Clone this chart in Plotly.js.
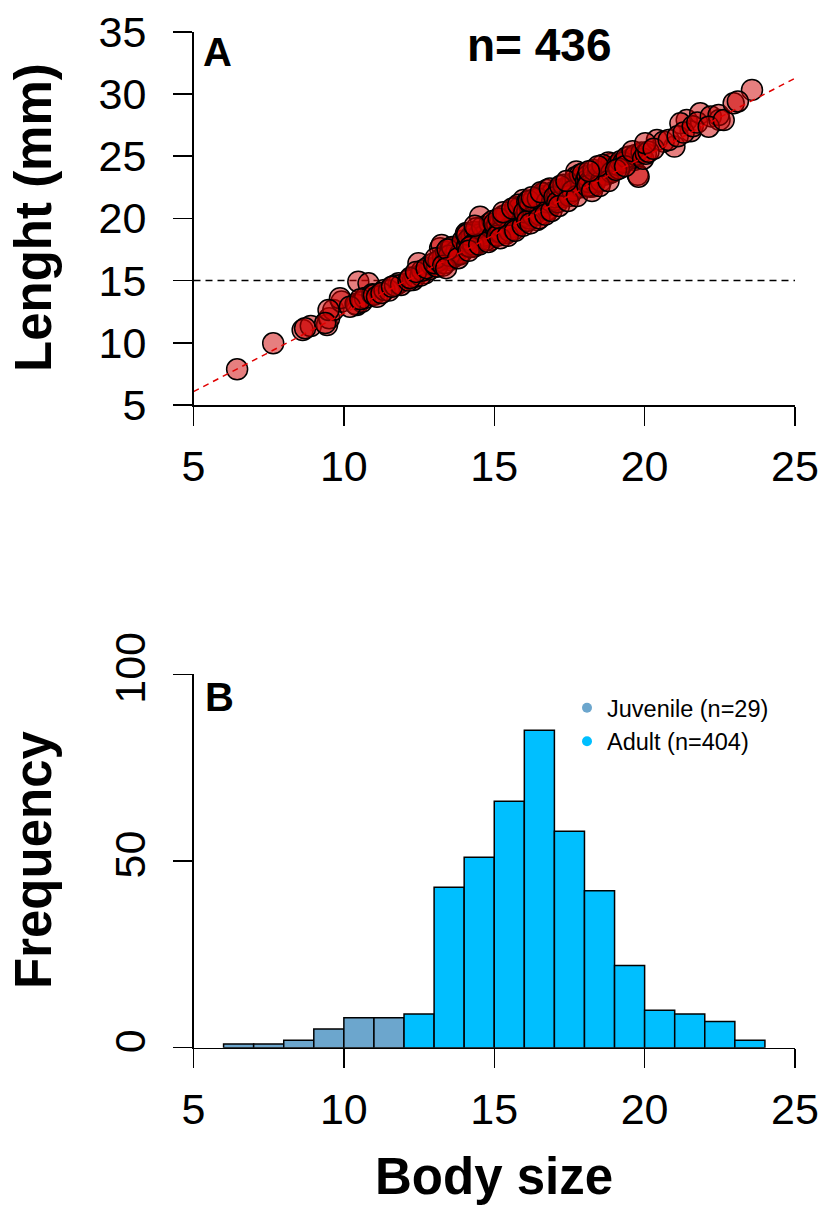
<!DOCTYPE html>
<html>
<head>
<meta charset="utf-8">
<script src="https://cdn.plot.ly/plotly-3.0.1.min.js"></script>
<style>html,body{margin:0;padding:0;background:#fff;}#chart{width:825px;height:1207px;}</style>
</head>
<body>
<div id="chart"></div>
<script>
// ---- Panel A: body size vs length ----
const bodySize = [
  6.45, 7.65, 8.63, 8.9, 8.71,
  9.44, 9.51, 9.65, 9.92, 9.87, 9.49, 9.38,
  10.48, 10.82, 10.43, 10.39, 10.6, 10.7, 10.95, 10.2, 10.55,
  11.0, 11.1, 11.35, 11.82, 11.5, 11.25, 11.7, 11.9, 11.6,
  12.3, 12.37, 12.48, 12.7, 12.15, 12.55, 12.85, 12.9, 12.6, 12.2, 12.4, 12.75,
  13.09, 13.43, 13.2, 13.87, 13.25, 13.52, 13.1, 13.0, 13.3, 13.6, 13.7, 13.8, 13.95, 13.15, 13.4, 13.55, 13.65, 13.75, 13.9, 13.35, 13.05, 13.5, 13.3, 13.6, 13.85, 13.45, 13.4, 13.8, 13.95,
  14.31, 14.76, 14.09, 14.98, 14.06, 14.33, 14.88, 14.53, 14.42, 14.87, 14.2, 14.1, 14.45, 14.55, 14.6, 14.7, 14.8, 14.9, 14.25, 14.15, 14.35, 14.5, 14.95, 14.65, 14.1, 14.3, 14.6, 14.75, 14.85, 14.4, 14.2, 14.15, 14.5, 14.8, 14.95, 14.35,
  15.42, 15.9, 15.31, 15.87, 15.97, 15.05, 15.1, 15.15, 15.2, 15.25, 15.3, 15.35, 15.45, 15.5, 15.55, 15.6, 15.65, 15.7, 15.75, 15.8, 15.85, 15.95, 15.0, 15.4, 15.6, 15.2, 15.75, 15.5, 15.1, 15.3, 15.5, 15.7, 15.9, 15.15, 15.65, 15.85, 15.2, 15.45, 15.7, 15.95, 15.3, 15.6, 15.8,
  16.1, 16.75, 16.75, 16.42, 16.05, 16.1, 16.15, 16.2, 16.25, 16.3, 16.35, 16.4, 16.45, 16.5, 16.55, 16.6, 16.65, 16.7, 16.8, 16.85, 16.9, 16.95, 16.0, 16.2, 16.5, 16.6, 16.3, 16.85, 16.4, 16.7, 16.9, 16.1, 16.3, 16.5, 16.6, 16.8, 16.95, 16.15, 16.45, 16.75, 16.2, 16.5, 16.7, 16.9, 16.25, 16.55, 16.85,
  17.19, 17.73, 17.2, 17.05, 17.1, 17.15, 17.25, 17.3, 17.35, 17.4, 17.45, 17.5, 17.55, 17.6, 17.65, 17.7, 17.75, 17.8, 17.85, 17.9, 17.95, 17.0, 17.5, 17.1, 17.3, 17.5, 17.7, 17.9, 17.2, 17.6, 17.85, 17.15, 17.45, 17.75, 17.4, 17.95,
  18.27, 18.82, 18.2, 18.75, 18.05, 18.1, 18.15, 18.3, 18.4, 18.45, 18.5, 18.6, 18.65, 18.7, 18.85, 18.9, 18.95, 18.35, 18.1, 18.3, 18.55, 18.8, 18.6, 18.9, 18.25, 18.5, 18.8, 18.45, 18.15,
  19.5, 19.77, 19.64, 19.8, 19.58, 19.1, 19.2, 19.3, 19.4, 19.7, 19.9, 19.15, 19.05, 19.35, 19.6, 19.95,
  20.04, 20.99, 20.41, 20.63, 20.13, 20.02, 20.3, 20.8,
  21.4, 21.53, 21.19, 21.85, 21.1, 21.3, 21.6, 21.75,
  22.2, 22.49, 22.46, 22.13, 22.63, 22.96,
  23.57, 23.1
];
const lengthMm = [
  7.87, 9.96, 11.03, 11.35, 11.17,
  11.43, 11.97, 12.64, 13.31, 13.58, 12.64, 11.59,
  14.91, 14.78, 13.04, 13.12, 13.3, 13.6, 13.9, 12.9, 13.5,
  13.85, 13.7, 14.25, 14.78, 14.2, 14.0, 14.6, 14.65, 14.5,
  15.05, 15.31, 16.39, 15.59, 15.0, 15.4, 15.9, 16.3, 15.8, 15.2, 15.7, 16.0,
  16.12, 16.79, 17.6, 17.73, 17.87, 16.66, 16.13, 16.4, 16.9, 17.2, 17.0, 17.5, 17.9, 16.6, 17.3, 17.6, 16.9, 17.4, 17.2, 16.4, 16.8, 17.0, 16.2, 17.7, 17.1, 17.5, 16.0, 16.8, 18.2,
  18.26, 18.8, 18.8, 19.33, 18.8, 17.73, 18.54, 20.14, 18.0, 18.26, 18.1, 17.8, 18.5, 18.9, 18.4, 19.0, 19.2, 19.1, 18.6, 18.3, 18.9, 18.7, 18.9, 18.6, 18.7, 17.9, 19.3, 18.3, 19.6, 19.2, 17.7, 17.4, 17.9, 18.1, 19.8, 19.4,
  18.8, 20.15, 18.8, 20.27, 21.48, 19.2, 19.5, 18.9, 19.7, 19.3, 19.9, 19.4, 19.6, 20.1, 19.5, 19.9, 20.4, 19.8, 20.2, 19.7, 20.5, 20.3, 19.6, 20.3, 19.3, 18.9, 20.7, 19.2, 18.6, 20.2, 19.0, 20.9, 19.6, 20.0, 19.1, 20.9, 18.4, 18.6, 19.0, 19.4, 20.5, 20.8, 21.1,
  21.35, 22.28, 20.68, 19.87, 20.2, 20.6, 20.0, 20.8, 20.4, 21.0, 20.6, 21.1, 20.7, 21.2, 20.9, 21.4, 21.0, 21.5, 21.1, 21.6, 21.2, 21.7, 20.5, 21.2, 20.6, 21.8, 20.2, 21.9, 20.5, 21.0, 21.4, 19.8, 21.5, 20.3, 22.0, 20.7, 22.1, 21.4, 21.6, 21.3, 19.6, 20.0, 20.3, 20.6, 21.7, 22.1, 22.4,
  21.85, 23.77, 21.88, 21.5, 21.9, 22.3, 21.7, 22.2, 22.0, 22.5, 22.1, 22.6, 22.3, 22.8, 22.4, 22.9, 22.6, 23.1, 22.8, 23.2, 22.9, 21.7, 22.0, 21.3, 22.7, 21.8, 23.3, 22.5, 22.6, 22.2, 23.5, 21.0, 21.4, 21.8, 23.0, 23.6,
  22.56, 23.63, 22.55, 23.62, 23.0, 23.4, 22.9, 23.5, 23.2, 23.7, 23.4, 23.9, 23.5, 24.1, 24.0, 24.4, 24.1, 22.9, 22.6, 23.9, 23.0, 24.5, 24.3, 23.7, 22.2, 22.6, 23.0, 24.2, 23.8,
  24.97, 23.5, 24.69, 23.35, 24.83, 24.3, 24.6, 24.5, 24.9, 25.1, 25.3, 24.0, 23.9, 24.2, 25.4, 24.8,
  25.2, 25.78, 26.3, 26.17, 25.36, 26.04, 25.6, 26.3,
  27.9, 27.0, 27.64, 28.45, 26.6, 26.9, 27.4, 27.7,
  28.2, 27.92, 28.31, 27.37, 27.9, 29.26,
  30.33, 29.4
];
const fitX = [5, 25];
const fitY = [6.07, 31.27];
const juvenileCut = 15;
const nTotal = 436;

// ---- Panel B: histogram of body size (1-unit bins) ----
const juvBinCenters = [6.5, 7.5, 8.5, 9.5, 10.5, 11.5];
const juvCounts     = [1, 1, 2, 5, 8, 8];
const adultBinCenters = [12.5, 13.5, 14.5, 15.5, 16.5, 17.5, 18.5, 19.5, 20.5, 21.5, 22.5, 23.5];
const adultCounts     = [9, 43, 51, 66, 85, 58, 42, 22, 10, 9, 7, 2];
const juvLabel = 'Juvenile (n=29)';
const adultLabel = 'Adult (n=404)';

const xTicks = [5, 10, 15, 20, 25];
const yTicksA = [5, 10, 15, 20, 25, 30, 35];
const yTicksB = [0, 50, 100];

// ---- layout geometry ----
const W = 825, H = 1207;
const FONT = 'Liberation Sans, Arial, sans-serif';
const px2x = p => p / W;
const px2y = p => 1 - p / H;

const traces = [
  {type:'scatter', mode:'markers', x: bodySize, y: lengthMm, xaxis:'x', yaxis:'y', showlegend:false,
   marker:{size:21, color:'rgba(205,0,0,0.5)', line:{color:'black', width:1.5}}, hoverinfo:'skip'},
  {type:'scatter', mode:'lines', x: fitX, y: fitY, xaxis:'x', yaxis:'y', showlegend:false,
   line:{color:'#e00000', width:1.5, dash:'6px,5px'}, hoverinfo:'skip'},
  {type:'bar', x: juvBinCenters, y: juvCounts, width:1, xaxis:'x2', yaxis:'y2', showlegend:false,
   marker:{color:'#6CA6CD', line:{color:'black', width:1.5}}, hoverinfo:'skip'},
  {type:'bar', x: adultBinCenters, y: adultCounts, width:1, xaxis:'x2', yaxis:'y2', showlegend:false,
   marker:{color:'#00BFFF', line:{color:'black', width:1.5}}, hoverinfo:'skip'},
  {type:'scatter', mode:'markers', x:[null], y:[null], xaxis:'x2', yaxis:'y2', name: juvLabel,
   marker:{size:10, color:'#6CA6CD'}},
  {type:'scatter', mode:'markers', x:[null], y:[null], xaxis:'x2', yaxis:'y2', name: adultLabel,
   marker:{size:10, color:'#00BFFF'}}
];

const axCommon = {
  showline:true, linecolor:'black', linewidth:1.5, ticks:'outside', ticklen:19, tickwidth:1.5,
  tickcolor:'black', showgrid:false, zeroline:false, fixedrange:true,
  tickfont:{family:FONT, size:43, color:'black'}
};
const xDomain = [px2x(193.5), px2x(795)];

const layout = {
  width: W, height: H, autosize:false,
  margin:{l:0, r:0, t:0, b:0, pad:0},
  paper_bgcolor:'white', plot_bgcolor:'white',
  font:{family:FONT, color:'black'},
  bargap:0,
  xaxis: Object.assign({}, axCommon, {domain:xDomain, range:[5,25], anchor:'y', tickvals:xTicks, ticklabelstandoff:4}),
  yaxis: Object.assign({}, axCommon, {domain:[px2y(405), px2y(31.8)], range:[5,35], anchor:'x', tickvals:yTicksA, ticklabelstandoff:18}),
  xaxis2: Object.assign({}, axCommon, {domain:xDomain, range:[5,25], anchor:'y2', tickvals:xTicks, ticklabelstandoff:4}),
  yaxis2: Object.assign({}, axCommon, {domain:[px2y(1047.7), px2y(674.3)], range:[0,100], anchor:'x2', tickvals:yTicksB, tickangle:-90, ticklabelstandoff:11}),
  shapes: [
    {type:'line', xref:'x', yref:'y', x0:5, x1:25, y0:juvenileCut, y1:juvenileCut, layer:'below',
     line:{color:'black', width:1.5, dash:'7px,5px'}}
  ],
  showlegend:true,
  legend:{x:px2x(567), y:px2y(686), xanchor:'left', yanchor:'top', bgcolor:'rgba(0,0,0,0)',
          font:{family:FONT, size:23.5, color:'black'}, itemclick:false, itemdoubleclick:false},
  annotations: [
    {text:'<b>n= ' + nTotal + '</b>', xref:'paper', yref:'paper', x:px2x(539.5), y:px2y(45), xanchor:'center', yanchor:'middle', showarrow:false, font:{family:FONT, size:46, color:'black'}},
    {text:'<b>A</b>', xref:'paper', yref:'paper', x:px2x(218), y:px2y(52), xanchor:'center', yanchor:'middle', showarrow:false, font:{family:FONT, size:40, color:'black'}},
    {text:'<b>B</b>', xref:'paper', yref:'paper', x:px2x(219), y:px2y(697), xanchor:'center', yanchor:'middle', showarrow:false, font:{family:FONT, size:40, color:'black'}},
    {text:'<b>Lenght (mm)</b>', xref:'paper', yref:'paper', x:px2x(33), y:px2y(218), xanchor:'center', yanchor:'middle', textangle:-90, showarrow:false, font:{family:FONT, size:51, color:'black'}},
    {text:'<b>Frequency</b>', xref:'paper', yref:'paper', x:px2x(33), y:px2y(860), xanchor:'center', yanchor:'middle', textangle:-90, showarrow:false, font:{family:FONT, size:51, color:'black'}},
    {text:'<b>Body size</b>', xref:'paper', yref:'paper', x:px2x(493.5), y:px2y(1176), xanchor:'center', yanchor:'middle', showarrow:false, font:{family:FONT, size:51, color:'black'}}
  ]
};

Plotly.newPlot('chart', traces, layout, {displayModeBar:false, staticPlot:true});
</script>
</body>
</html>
